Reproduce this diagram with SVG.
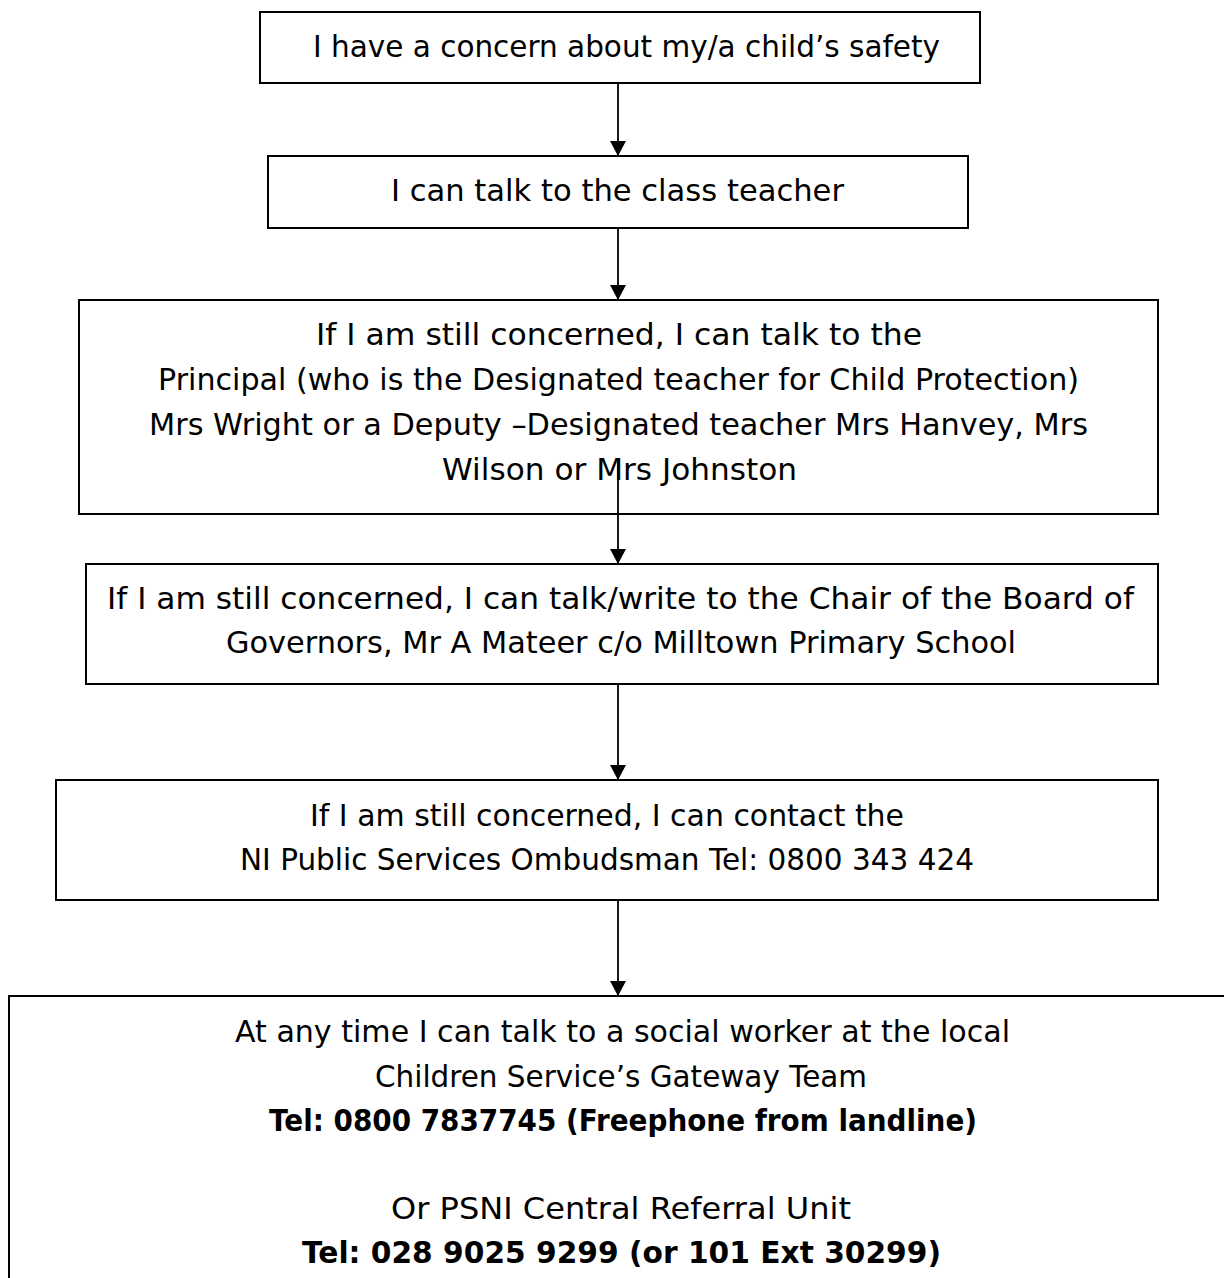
<svg xmlns="http://www.w3.org/2000/svg" width="1224" height="1278" viewBox="0 0 1224 1278">
<defs>
<marker id="ah" markerWidth="15" markerHeight="16" refX="15" refY="8" orient="auto" markerUnits="userSpaceOnUse" viewBox="0 0 15 16">
<path d="M0,0 L15,8 L0,16 Z" fill="#000"/>
</marker>
</defs>
<style>
.box{fill:#fff;stroke:#000;stroke-width:2}
.t{font-family:"DejaVu Sans","Noto Sans",sans-serif;font-size:31px;fill:#000;text-anchor:middle}
.b{font-weight:bold}
.c{stroke:#000;stroke-width:1.8;fill:none}
</style>
<rect width="1224" height="1278" fill="#fff"/>
<g id="n1">
<rect class="box" x="260" y="12" width="720" height="71"/>
<text class="t" x="626.5" y="57" textLength="627" lengthAdjust="spacingAndGlyphs">I have a concern about my/a child’s safety</text>
</g>
<g id="n2">
<rect class="box" x="268" y="156" width="700" height="72"/>
<text class="t" x="617.5" y="201" textLength="453" lengthAdjust="spacingAndGlyphs">I can talk to the class teacher</text>
</g>
<g id="n3">
<rect class="box" x="79" y="300" width="1079" height="214"/>
<text class="t" x="619" y="345" textLength="606" lengthAdjust="spacingAndGlyphs">If I am still concerned, I can talk to the</text>
<text class="t" x="618.5" y="390" textLength="921" lengthAdjust="spacingAndGlyphs">Principal (who is the Designated teacher for Child Protection)</text>
<text class="t" x="618.5" y="435" textLength="939" lengthAdjust="spacingAndGlyphs">Mrs Wright or a Deputy –Designated teacher Mrs Hanvey, Mrs</text>
<text class="t" x="619.5" y="480" textLength="355" lengthAdjust="spacingAndGlyphs">Wilson or Mrs Johnston</text>
</g>
<g id="n4">
<rect class="box" x="86" y="564" width="1072" height="120"/>
<text class="t" x="620.5" y="609" textLength="1027" lengthAdjust="spacingAndGlyphs">If I am still concerned, I can talk/write to the Chair of the Board of</text>
<text class="t" x="621" y="653" textLength="790" lengthAdjust="spacingAndGlyphs">Governors, Mr A Mateer c/o Milltown Primary School</text>
</g>
<g id="n5">
<rect class="box" x="56" y="780" width="1102" height="120"/>
<text class="t" x="607" y="826" textLength="594" lengthAdjust="spacingAndGlyphs">If I am still concerned, I can contact the</text>
<text class="t" x="607" y="870" textLength="734" lengthAdjust="spacingAndGlyphs">NI Public Services Ombudsman Tel: 0800 343 424</text>
</g>
<g id="n6">
<rect class="box" x="9" y="996" width="1226" height="300"/>
<text class="t" x="622.5" y="1042" textLength="775" lengthAdjust="spacingAndGlyphs">At any time I can talk to a social worker at the local</text>
<text class="t" x="621" y="1087" textLength="492" lengthAdjust="spacingAndGlyphs">Children Service’s Gateway Team</text>
<text class="t b" x="623" y="1131" textLength="708" lengthAdjust="spacingAndGlyphs">Tel: 0800 7837745 (Freephone from landline)</text>
<text class="t" x="621" y="1219" textLength="460" lengthAdjust="spacingAndGlyphs">Or PSNI Central Referral Unit</text>
<text class="t b" x="621.5" y="1263" textLength="639" lengthAdjust="spacingAndGlyphs">Tel: 028 9025 9299 (or 101 Ext 30299)</text>
</g>
<g id="connectors">
<line class="c" x1="618" y1="83" x2="618" y2="156" marker-end="url(#ah)"/>
<line class="c" x1="618" y1="228" x2="618" y2="300" marker-end="url(#ah)"/>
<line class="c" x1="618" y1="462" x2="618" y2="564" marker-end="url(#ah)"/>
<line class="c" x1="618" y1="684" x2="618" y2="780" marker-end="url(#ah)"/>
<line class="c" x1="618" y1="900" x2="618" y2="996" marker-end="url(#ah)"/>
</g>
</svg>
